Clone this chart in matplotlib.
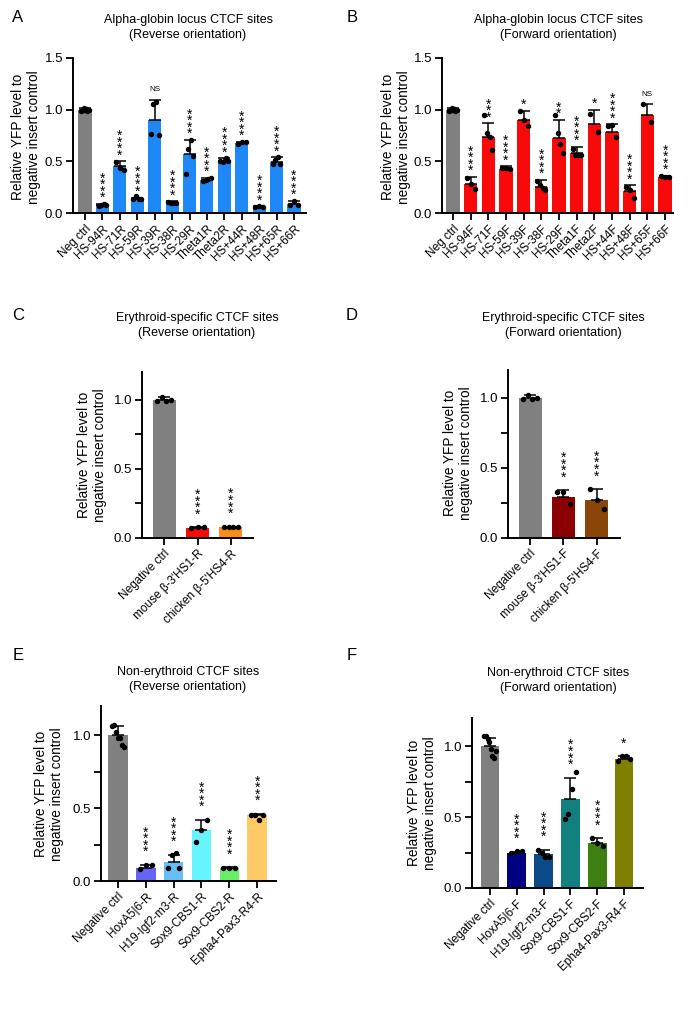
import numpy as np
import matplotlib
matplotlib.use("Agg")
import matplotlib.pyplot as plt
from matplotlib.ticker import FormatStrFormatter, MultipleLocator

plt.rcParams['font.family'] = ['Liberation Sans', 'DejaVu Sans']

# ---------------- DATA ----------------
# Panel A: alpha-globin, reverse
a_labels = ["Neg ctrl", "HS-94R", "HS-71R", "HS-59R", "HS-39R", "HS-38R", "HS-29R",
            "Theta1R", "Theta2R", "HS+44R", "HS+48R", "HS+65R", "HS+66R"]
a_means = [1.00, 0.08, 0.45, 0.14, 0.90, 0.10, 0.57, 0.32, 0.50, 0.68, 0.06, 0.49, 0.09]
a_sds = [0.02, 0.01, 0.05, 0.01, 0.19, 0.015, 0.14, 0.02, 0.03, 0.01, 0.005, 0.05, 0.03]
a_dots = [[0.99, 1.00, 1.02, 1.01, 0.99, 1.00],
          [0.07, 0.08, 0.085, 0.08],
          [0.49, 0.44, 0.42],
          [0.14, 0.16, 0.14, 0.14],
          [0.76, 1.05, 1.07, 0.75],
          [0.11, 0.10, 0.10, 0.10],
          [0.38, 0.62, 0.71, 0.55],
          [0.31, 0.32, 0.33, 0.34],
          [0.50, 0.49, 0.53, 0.50],
          [0.67, 0.69, 0.69],
          [0.06, 0.065, 0.06],
          [0.47, 0.51, 0.54, 0.47],
          [0.08, 0.12, 0.08]]
a_sig = ["", "****", "****", "****", "NS", "****", "****", "****", "****", "****", "****", "****", "****"]

# Panel B: alpha-globin, forward
b_labels = ["Neg ctrl", "HS-94F", "HS-71F", "HS-59F", "HS-39F", "HS-38F", "HS-29F",
            "Theta1F", "Theta2F", "HS+44F", "HS+48F", "HS+65F", "HS+66F"]
b_means = [1.00, 0.28, 0.74, 0.43, 0.90, 0.25, 0.73, 0.58, 0.86, 0.78, 0.21, 0.95, 0.35]
b_sds = [0.02, 0.07, 0.13, 0.02, 0.09, 0.07, 0.17, 0.06, 0.14, 0.08, 0.06, 0.10, 0.01]
b_dots = [[0.99, 1.00, 1.02, 1.01, 0.99, 1.00],
          [0.34, 0.28, 0.23],
          [0.95, 0.77, 0.74, 0.61],
          [0.44, 0.44, 0.43],
          [0.99, 0.90, 0.84],
          [0.31, 0.27, 0.24, 0.22],
          [0.95, 0.77, 0.67, 0.58],
          [0.62, 0.56, 0.56, 0.56],
          [0.96, 0.78],
          [0.84, 0.85, 0.74],
          [0.25, 0.22, 0.15],
          [1.05, 0.88],
          [0.36, 0.35, 0.35]]
b_sig = ["", "****", "***", "****", "*", "****", "**", "****", "*", "****", "****", "NS", "****"]

# Panel C: erythroid-specific, reverse
c_labels = ["Negative ctrl", "mouse \u03b2-3'HS1-R", "chicken \u03b2-5'HS4-R"]
c_means = [1.00, 0.075, 0.08]
c_sds = [0.02, 0.003, 0.003]
c_dots = [[0.99, 1.02, 0.99, 1.00], [0.075, 0.078, 0.077], [0.08, 0.08, 0.08, 0.08]]
c_sig = ["", "****", "****"]

# Panel D: erythroid-specific, forward
d_labels = ["Negative ctrl", "mouse \u03b2-3'HS1-F", "chicken \u03b2-5'HS4-F"]
d_means = [1.00, 0.29, 0.27]
d_sds = [0.02, 0.05, 0.08]
d_dots = [[0.99, 1.02, 0.99, 1.00], [0.33, 0.33, 0.24], [0.35, 0.27, 0.21]]
d_sig = ["", "****", "****"]

# Panel E: non-erythroid, reverse
e_labels = ["Negative ctrl", "HoxA5|6-R", "H19-Igf2-m3-R", "Sox9-CBS1-R", "Sox9-CBS2-R", "Epha4-Pax3-R4-R"]
e_means = [1.00, 0.09, 0.13, 0.35, 0.09, 0.45]
e_sds = [0.06, 0.02, 0.05, 0.07, 0.003, 0.01]
e_dots = [[1.06, 1.07, 1.02, 0.98, 0.98, 0.93, 0.92],
          [0.08, 0.11, 0.11],
          [0.09, 0.18, 0.19, 0.09],
          [0.27, 0.35, 0.42],
          [0.09, 0.09, 0.09],
          [0.45, 0.45, 0.42, 0.45]]
e_sig = ["", "****", "****", "****", "****", "****"]

# Panel F: non-erythroid, forward
f_labels = ["Negative ctrl", "HoxA5|6-F", "H19-Igf2-m3-F", "Sox9-CBS1-F", "Sox9-CBS2-F", "Epha4-Pax3-R4-F"]
f_means = [1.00, 0.25, 0.24, 0.63, 0.32, 0.91]
f_sds = [0.06, 0.005, 0.03, 0.15, 0.03, 0.02]
f_dots = [[1.07, 1.07, 1.05, 1.03, 0.98, 0.93, 0.92, 0.97],
          [0.25, 0.26, 0.26],
          [0.27, 0.25, 0.22, 0.22],
          [0.49, 0.52, 0.70, 0.82],
          [0.35, 0.32, 0.30],
          [0.90, 0.93, 0.93, 0.91]]
f_sig = ["", "****", "****", "****", "****", "*"]

GRAY = "#808080"
a_colors = [GRAY] + ["#1E88F7"] * 12
b_colors = [GRAY] + ["#F80A0A"] * 12
c_colors = [GRAY, "#F80A0A", "#FF8C1A"]
d_colors = [GRAY, "#8B0000", "#8A4508"]
e_colors = [GRAY, "#6464F5", "#66BEF5", "#66F5FF", "#66F066", "#FFC966"]
f_colors = [GRAY, "#000080", "#0C4A8A", "#138080", "#3D7F10", "#807F00"]

W, H = 690, 1010
fig = plt.figure(figsize=(W / 100, H / 100), dpi=100)


def px_axes(left, right, bottom, top):
    return fig.add_axes([left / W, 1 - bottom / H, (right - left) / W, (bottom - top) / H])


STAR_FS = 10.0
STAR_LS = 0.32       # line spacing of the stacked stars
STAR_BASE = 6.4      # points from text bottom to the lowest star's ink


def draw_panel(ax, labels, means, sds, dots, colors, sigs, xlim, ylim, major, minor,
               bar_w, xfs, gap):
    x = np.arange(len(labels))
    ax.bar(x, means, width=bar_w, color=colors, zorder=1)
    for xi, m, s in zip(x, means, sds):
        ax.errorbar(xi, m, yerr=[[0], [s]], fmt='none', ecolor='black',
                    elinewidth=1.1, capsize=4.5, capthick=1.1, zorder=2)
    for xi, d in zip(x, dots):
        n = len(d)
        off = np.linspace(-bar_w * 0.3, bar_w * 0.3, n) if n > 1 else np.array([0.0])
        ax.plot(xi + off, d, 'o', color='black', ms=2.9, zorder=3, clip_on=False)
    for xi, m, s, sg in zip(x, means, sds, sigs):
        if not sg:
            continue
        top = m + s
        if sg == "NS":
            ax.annotate("NS", (xi, top), xytext=(0, 5), textcoords='offset points',
                        ha='center', va='bottom', fontsize=5.8)
        else:
            ax.annotate("\n".join(sg), (xi, top), xytext=(0, gap - STAR_BASE),
                        textcoords='offset points', ha='center', va='bottom',
                        fontsize=STAR_FS, linespacing=STAR_LS)
    ax.set_xlim(*xlim)
    ax.set_ylim(*ylim)
    ax.set_xticks(x)
    ax.set_xticklabels(labels, rotation=45, ha='right', rotation_mode='anchor', fontsize=xfs)
    ax.yaxis.set_major_locator(MultipleLocator(major))
    if minor:
        ax.yaxis.set_minor_locator(MultipleLocator(minor))
    ax.yaxis.set_major_formatter(FormatStrFormatter('%.1f'))
    ax.tick_params(axis='y', labelsize=9.5, width=1.3, length=5, direction='out', pad=2)
    ax.tick_params(axis='y', which='minor', width=1.3, length=5)
    ax.tick_params(axis='x', width=1.3, length=5, direction='out', pad=2)
    for sp in ['top', 'right']:
        ax.spines[sp].set_visible(False)
    for sp in ['left', 'bottom']:
        ax.spines[sp].set_linewidth(1.4)


YL = "Relative YFP level to\nnegative insert control"

# Panel A
axA = px_axes(73, 306, 213, 58)
draw_panel(axA, a_labels, a_means, a_sds, a_dots, a_colors, a_sig,
           (-0.69, 12.69), (0, 1.5), 0.5, None, 0.75, 8.5, 5.5)
# Panel B
axB = px_axes(442, 673, 213, 58)
draw_panel(axB, b_labels, b_means, b_sds, b_dots, b_colors, b_sig,
           (-0.62, 12.45), (0, 1.5), 0.5, None, 0.75, 8.5, 5.5)
# Panel C
axC = px_axes(142, 253, 538, 372)
draw_panel(axC, c_labels, c_means, c_sds, c_dots, c_colors, c_sig,
           (-0.66, 2.66), (0, 1.2), 0.5, 0.25, 0.69, 8.5, 10.5)
# Panel D
axD = px_axes(508, 620, 538, 370)
draw_panel(axD, d_labels, d_means, d_sds, d_dots, d_colors, d_sig,
           (-0.66, 2.69), (0, 1.2), 0.5, 0.25, 0.69, 8.5, 10.5)
# Panel E
axE = px_axes(101, 276, 881, 706)
draw_panel(axE, e_labels, e_means, e_sds, e_dots, e_colors, e_sig,
           (-0.61, 5.68), (0, 1.2), 0.5, 0.25, 0.7, 8.5, 10.5)
# Panel F
axF = px_axes(472, 643, 888, 718)
draw_panel(axF, f_labels, f_means, f_sds, f_dots, f_colors, f_sig,
           (-0.67, 5.71), (0, 1.2), 0.5, 0.25, 0.7, 8.5, 10.5)

# Y labels
for (xp, yp) in [(26, 137), (396, 137), (92, 455), (458, 453), (49, 794), (422, 803)]:
    fig.text(xp / W, 1 - yp / H, YL, rotation=90, ha='center', va='center',
             fontsize=9.8, linespacing=1.1)

# Titles
titles = [("Alpha-globin locus CTCF sites", "(Reverse orientation)", 188, 20),
          ("Alpha-globin locus CTCF sites", "(Forward orientation)", 558, 20),
          ("Erythroid-specific CTCF sites", "(Reverse orientation)", 197, 318),
          ("Erythroid-specific CTCF sites", "(Forward orientation)", 563, 318),
          ("Non-erythroid CTCF sites", "(Reverse orientation)", 188, 672),
          ("Non-erythroid CTCF sites", "(Forward orientation)", 558, 673)]
for t1, t2, xp, yp in titles:
    fig.text(xp / W, 1 - yp / H, t1, ha='center', va='center', fontsize=9)
    fig.text(xp / W, 1 - (yp + 15) / H, t2, ha='center', va='center', fontsize=9)

# Panel letters
for lab, xp, yp in [("A", 18, 18), ("B", 352, 18), ("C", 18, 316),
                    ("D", 352, 316), ("E", 18, 655), ("F", 352, 655)]:
    fig.text(xp / W, 1 - yp / H, lab, ha='center', va='center', fontsize=12)

fig.savefig("out.png", dpi=100)
